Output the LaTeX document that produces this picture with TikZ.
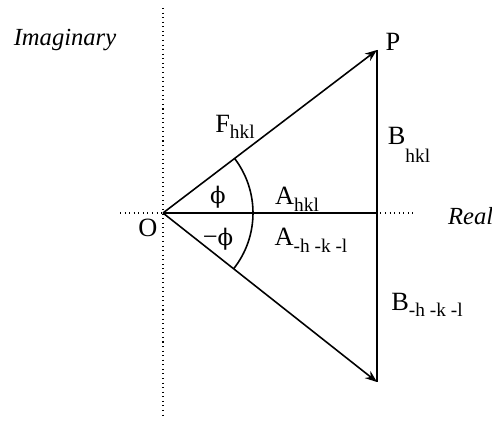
\documentclass[tikz,border=0pt]{standalone}
\usepackage{fontspec}
\setmainfont{Liberation Serif}
\newfontfamily\grkfont{DejaVu Serif}
\usetikzlibrary{arrows.meta}
\newcommand{\lowsub}[2][-0.55ex]{\raisebox{#1}{\fontsize{11}{13}\selectfont #2}}
\newcommand{\phisym}{{\grkfont\fontsize{13}{15}\selectfont ϕ}}

\begin{document}
\begin{tikzpicture}[x=0.02cm,y=0.02cm,
  ax/.style={dotted,line width=0.6pt},
  vec/.style={line width=0.9pt,-{Stealth[length=2.4mm,width=1.8mm]}},
  seg/.style={line width=0.9pt},
  lab/.style={font=\fontsize{15}{17}\selectfont,inner sep=1pt},
  axlab/.style={lab,font=\fontsize{14}{16}\selectfont\itshape}]
  \useasboundingbox (-163,-208) rectangle (329,213);
  % origin, tips and foot of the vertical
  \coordinate (O) at (0,0);
  \coordinate (P) at (214,163);
  \coordinate (Q) at (214,-169);
  \coordinate (M) at (214,0);
  \coordinate (ytop) at (0,205);
  \coordinate (ybot) at (0,-202);
  \coordinate (xleft) at (-43,0);
  \coordinate (xright) at (252,0);
  % axes
  \draw[ax] (ytop) -- (ybot);
  \draw[ax] (xleft) -- (xright);
  % vectors
  \draw[vec] (O) -- (P);
  \draw[vec] (O) -- (Q);
  \draw[seg] (O) -- (M);
  \draw[seg] (P) -- (Q);
  \draw[seg] ([shift={(-38.3:90)}]O) arc[start angle=-38.3,end angle=37.3,radius=90];
  % labels
  \node[axlab] (imag) at (-98,173) {Imaginary};
  \node[axlab,anchor=west] (real) at (283,-3) {Real};
  \node[lab] (Plab) at (230,171) {P};
  \node[lab] (Olab) at (-15,-15) {O};
  \node[lab] (F) at (72,86) {F\lowsub{hkl}};
  \node[lab] (B) at (246,68) {B\lowsub[-1.5ex]{hkl}};
  \node[lab] (A) at (134,14) {A\lowsub{hkl}};
  \node[lab] (Am) at (148,-27) {A\lowsub{-h -k -l}};
  \node[lab] (Bm) at (264,-92) {B\lowsub{-h -k -l}};
  \node[lab] (phi) at (55,16) {\phisym};
  \node[lab] (mphi) at (55,-26) {−\phisym};
\end{tikzpicture}
\end{document}
